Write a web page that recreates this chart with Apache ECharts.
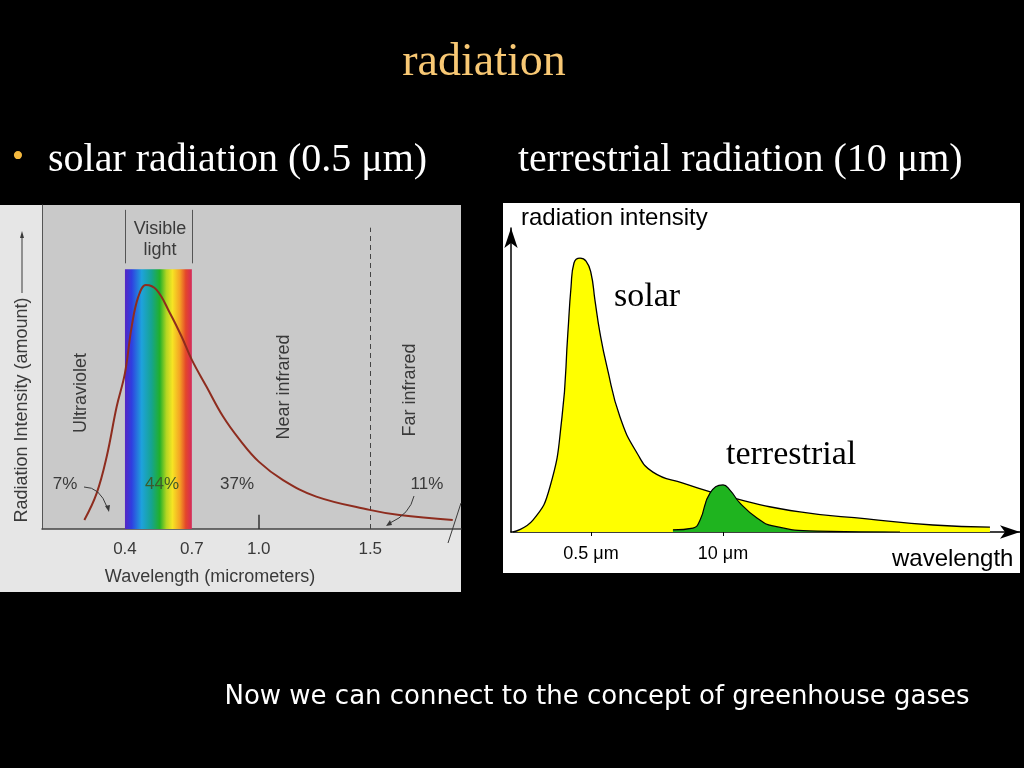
<!DOCTYPE html>
<html><head><meta charset="utf-8">
<script src="https://cdn.jsdelivr.net/npm/echarts@6/dist/echarts.min.js"></script>
<style>html,body{margin:0;padding:0;background:#000;}#c{width:1024px;height:768px;}</style>
</head><body><div id="c"></div>
<script>
// ---- Left chart data: solar spectrum (wavelength µm, relative intensity) ----
const solarSpecWl  = [0.218,0.273,0.318,0.363,0.40,0.43,0.46,0.494,0.542,0.602,0.654,0.70,0.766,0.84,0.915,1.0,1.109,1.258,1.497,1.631,1.87];
const solarSpecInt = [2.8,11.0,22.3,37.8,48.1,62.4,71.7,75.3,73.8,66.6,59.4,52.2,43.9,34.7,27.5,20.8,15.1,10.0,5.9,4.3,2.8];
const leftTickLabels = [0.4, 0.7, 1.0, 1.5];
const visibleBand = [0.4, 0.7];
const farIrLine = 1.5;
const percentLabels = ['7%', '44%', '37%', '11%'];

// ---- Right chart data: schematic solar and terrestrial curves (wavelength µm, intensity) ----
const solarWl  = [0.0853,0.134,0.197,0.259,0.296,0.318,0.340,0.390,0.447,0.50,0.547,0.613,0.719,0.966,1.42,2.04,4.03,12.5,57.3,262,1170,4266];
const solarInt = [0,3.9,14.8,37.8,65.5,80.6,88.5,90.1,89.1,85.2,76.3,65.5,54.3,37.8,26.0,19.7,16.1,11.2,6.6,4.3,2.3,1.6];
const terrWl   = [3.21,5.06,5.93,7.44,10.0,11.7,14.7,21.6,31.0,84.4,555];
const terrInt  = [0.7,1.3,3.9,12.8,15.5,13.8,9.5,4.6,2.0,0.3,0];
const rightTickValues = [0.5, 10];
const rightTickLabels = ['0.5 μm', '10 μm'];

const chart = echarts.init(document.getElementById('c'));
const pair = (xs, ys, f) => xs.map((x, i) => [f ? f(x) : x, ys[i]]);
const dark = '#3a3a3a';
const sans = 'Liberation Sans, Arial, sans-serif';
const serif = 'Liberation Serif, Times New Roman, serif';

const spectrum = new echarts.graphic.LinearGradient(0, 0, 1, 0, [
  {offset: 0, color: '#5526c4'}, {offset: 0.1, color: '#2f3fe0'},
  {offset: 0.25, color: '#1ea2dc'}, {offset: 0.4, color: '#16a48e'},
  {offset: 0.52, color: '#22b02a'}, {offset: 0.62, color: '#b4d622'},
  {offset: 0.71, color: '#f6e424'}, {offset: 0.82, color: '#f4a224'},
  {offset: 0.91, color: '#e4462a'}, {offset: 1, color: '#d42a5c'}
]);

function gtext(text, x, y, size, color, opts) {
  return Object.assign({type: 'text', x: x, y: y, z: 100,
    style: {text: text, fill: color, font: size + 'px ' + sans, align: 'center', verticalAlign: 'middle'}}, opts || {});
}
function ltext(text, x, y, font, color) {
  return {type: 'text', x: x, y: y, z: 100, style: {text: text, fill: color, font: font, align: 'left', verticalAlign: 'middle'}};
}

const graphics = [
  // panel backgrounds
  {type: 'rect', z: -10, shape: {x: 0, y: 205, width: 461, height: 387}, style: {fill: '#e6e6e6'}},
  {type: 'rect', z: -9, shape: {x: 42, y: 205, width: 419, height: 324}, style: {fill: '#c9c9c9'}},
  {type: 'rect', z: -10, shape: {x: 503, y: 203, width: 517, height: 370}, style: {fill: '#ffffff'}},
  // slide texts
  {type: 'text', x: 484, y: 63, z: 100, style: {text: 'radiation', fill: '#f8c874', font: '46px ' + serif, align: 'center', verticalAlign: 'middle'}},
  {type: 'text', x: 18, y: 158, z: 100, style: {text: '•', fill: '#f4b83e', font: '34px ' + serif, align: 'center', verticalAlign: 'middle'}},
  ltext('solar radiation (0.5 μm)', 48, 160, '40px ' + serif, '#ffffff'),
  ltext('terrestrial radiation (10 μm)', 518, 160, '40px ' + serif, '#ffffff'),
  {type: 'text', x: 597, y: 697, z: 100, style: {text: 'Now we can connect to the concept of greenhouse gases', fill: '#ffffff', font: '26px DejaVu Sans, sans-serif', align: 'center', verticalAlign: 'middle'}},
  // left chart annotations
  gtext('Visible', 160, 229, 18, dark),
  gtext('light', 160, 250, 18, dark),
  gtext('Ultraviolet', 81, 393, 18, dark, {rotation: Math.PI / 2}),
  gtext('Near infrared', 284, 387, 18, dark, {rotation: Math.PI / 2}),
  gtext('Far infrared', 410, 390, 18, dark, {rotation: Math.PI / 2}),
  gtext(percentLabels[0], 65, 484, 17, dark),
  gtext(percentLabels[1], 162, 484, 17, '#3c5a2a'),
  gtext(percentLabels[2], 237, 484, 17, dark),
  gtext(percentLabels[3], 427, 484, 17, dark),
  gtext('Radiation Intensity (amount)', 22, 410, 18, dark, {rotation: Math.PI / 2}),
  {type: 'line', z: 100, shape: {x1: 22, y1: 293, x2: 22, y2: 237}, style: {stroke: dark, lineWidth: 1}},
  {type: 'polygon', z: 100, shape: {points: [[22, 231], [20, 238], [24, 238]]}, style: {fill: dark}},
  gtext('Wavelength (micrometers)', 210, 577, 18, dark),
  {type: 'bezierCurve', z: 100, shape: {x1: 84, y1: 487, cpx1: 100, cpy1: 487, x2: 107, y2: 507}, style: {stroke: dark, lineWidth: 1, fill: null}},
  {type: 'polygon', z: 100, shape: {points: [[109, 512], [105, 506], [110, 505]]}, style: {fill: dark}},
  {type: 'bezierCurve', z: 100, shape: {x1: 414, y1: 496, cpx1: 410, cpy1: 514, x2: 390, y2: 523}, style: {stroke: dark, lineWidth: 1, fill: null}},
  {type: 'polygon', z: 100, shape: {points: [[386, 526], [390, 520], [392, 525]]}, style: {fill: dark}},
  {type: 'line', z: 100, shape: {x1: 448, y1: 543, x2: 461, y2: 503}, style: {stroke: dark, lineWidth: 1}},
  // right chart annotations
  ltext('radiation intensity', 521, 218, '24px ' + sans, '#000'),
  ltext('solar', 614, 297, '34px ' + serif, '#000'),
  ltext('terrestrial', 726, 455, '34px ' + serif, '#000'),
  ltext('wavelength', 892, 559, '24px ' + sans, '#000')
];

const option = {
  backgroundColor: '#000000',
  animation: false,
  grid: [
    {left: 42, top: 205, width: 419, height: 324, containLabel: false},
    {left: 511, top: 228, right: 4, bottom: 236, containLabel: false}
  ],
  xAxis: [
    {gridIndex: 0, type: 'value', min: 0.028, max: 1.907,
      axisLine: {onZero: false, lineStyle: {color: '#444', width: 1.5}},
      axisTick: {show: false}, splitLine: {show: false},
      axisLabel: {customValues: leftTickLabels, formatter: v => v.toFixed(1), color: dark, fontSize: 17, fontFamily: sans, margin: 12}},
    {gridIndex: 1, type: 'value', min: -1.089, max: 3.926,
      axisLine: {onZero: false, lineStyle: {color: '#000', width: 1.5}, symbol: ['none', 'arrow'], symbolSize: [10, 20]},
      axisTick: {show: true, customValues: rightTickValues.map(Math.log10), length: 4, lineStyle: {color: '#000'}},
      splitLine: {show: false},
      axisLabel: {customValues: rightTickValues.map(Math.log10),
        formatter: v => rightTickLabels[rightTickValues.findIndex(t => Math.abs(Math.log10(t) - v) < 1e-6)] || '',
        color: '#000', fontSize: 18, fontFamily: sans, margin: 13}}
  ],
  yAxis: [
    {gridIndex: 0, type: 'value', min: 0, max: 100,
      axisLine: {show: true, onZero: false, lineStyle: {color: '#555', width: 1}},
      axisTick: {show: false}, axisLabel: {show: false}, splitLine: {show: false}},
    {gridIndex: 1, type: 'value', min: 0, max: 100,
      axisLine: {show: true, onZero: false, lineStyle: {color: '#000', width: 1.5}, symbol: ['none', 'arrow'], symbolSize: [10, 20]},
      axisTick: {show: false}, axisLabel: {show: false}, splitLine: {show: false}}
  ],
  graphic: graphics,
  series: [
    {type: 'line', xAxisIndex: 0, yAxisIndex: 0, data: pair(solarSpecWl, solarSpecInt),
      smooth: 0.4, symbol: 'none', lineStyle: {color: '#8e2c1e', width: 2}, z: 5,
      markArea: {silent: true, itemStyle: {color: spectrum, opacity: 1},
        data: [[{coord: [visibleBand[0], 0]}, {coord: [visibleBand[1], 80.2]}]]},
      markLine: {silent: true, symbol: 'none', label: {show: false},
        data: [
          [{coord: [visibleBand[0], 82], lineStyle: {color: '#555', width: 1, type: 'solid'}}, {coord: [visibleBand[0], 98.5]}],
          [{coord: [visibleBand[1], 82], lineStyle: {color: '#555', width: 1, type: 'solid'}}, {coord: [visibleBand[1], 98.5]}],
          [{coord: [farIrLine, 0], lineStyle: {color: '#444', width: 1, type: [5, 4]}}, {coord: [farIrLine, 93]}],
          [{coord: [1.0, 0], lineStyle: {color: '#333', width: 1.5, type: 'solid'}}, {coord: [1.0, 4.4]}]
        ]}},
    {type: 'line', xAxisIndex: 1, yAxisIndex: 1, data: pair(solarWl, solarInt, Math.log10),
      smooth: 0.5, symbol: 'none', z: 3,
      lineStyle: {color: '#000', width: 1.3}, areaStyle: {color: '#ffff00', opacity: 1}},
    {type: 'line', xAxisIndex: 1, yAxisIndex: 1, data: pair(terrWl, terrInt, Math.log10),
      smooth: 0.5, symbol: 'none', z: 4,
      lineStyle: {color: '#000', width: 1.2}, areaStyle: {color: '#1fb41f', opacity: 1}}
  ]
};
chart.setOption(option);
</script></body></html>
